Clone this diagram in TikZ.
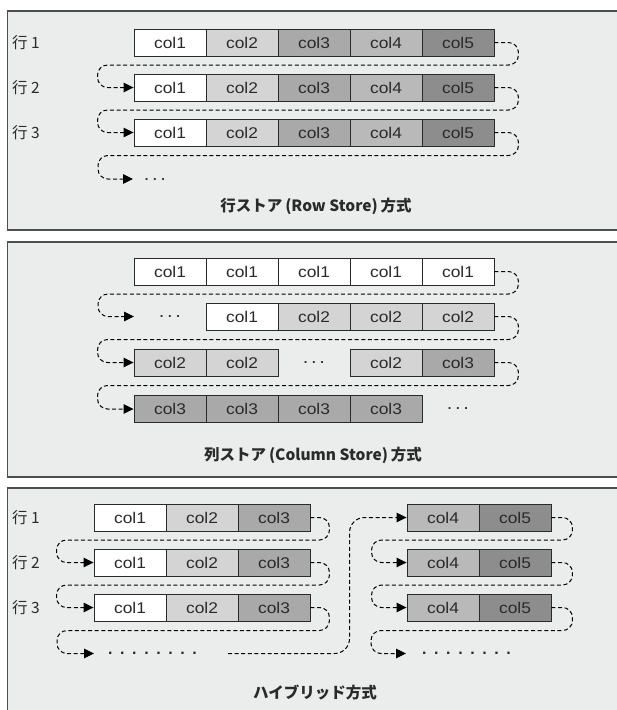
\documentclass[tikz,border=0pt]{standalone}
\usepackage{fontspec}
\setmainfont{Liberation Sans}
\newfontfamily\jpfont{Noto Sans CJK JP}
\newfontfamily\colfont[FakeStretch=1.12]{Liberation Sans}
\usetikzlibrary{arrows.meta}

\definecolor{panelbg}{HTML}{EBECEC}
\definecolor{frame}{HTML}{4E4E4E}
\definecolor{ink}{HTML}{2A2A2A}
\definecolor{shadeA}{HTML}{D4D4D4}
\definecolor{shadeB}{HTML}{A9A9A9}
\definecolor{shadeC}{HTML}{B9B9B9}
\definecolor{shadeD}{HTML}{8D8D8D}

% spaced run of dots
\newcommand{\dotrun}[2]{.\foreach \k in {2,...,#1}{\kern#2.}}

\begin{document}
\begin{tikzpicture}[x=1pt, y=-1pt,
  cell/.style={rectangle, draw=ink, line width=0.9pt, minimum width=72pt,
    minimum height=27pt, inner sep=0pt, text=ink,
    font=\colfont\fontsize{15.5}{17}\selectfont},
  c1/.style={cell, fill=white},
  c2/.style={cell, fill=shadeA},
  c3/.style={cell, fill=shadeB},
  c4/.style={cell, fill=shadeC},
  c5/.style={cell, fill=shadeD},
  rowlbl/.style={font=\jpfont\fontsize{15.5}{17}\selectfont, text=ink,
    anchor=west, inner sep=0pt},
  ttl/.style={font=\jpfont\bfseries\fontsize{15.5}{18}\selectfont, text=ink},
  elide/.style={font=\bfseries\fontsize{13}{15}\selectfont, text=ink, inner sep=0pt},
  elidebig/.style={font=\bfseries\fontsize{16}{18}\selectfont, text=ink, inner sep=0pt},
  flow/.style={draw=black, line width=1pt, dash pattern=on 4pt off 2.6pt,
    rounded corners=10pt, -{Triangle[length=10pt,width=9.5pt]}},
  panel/.style={draw=frame, line width=1.2pt},
]
\useasboundingbox (0,0) rectangle (617,710);

% Panels
\fill[panelbg] (7.5,11) rectangle (617,230);
\draw[panel] (617,11) -- (7.5,11) -- (7.5,230) -- (617,230);
\fill[panelbg] (7.5,242) rectangle (617,477);
\draw[panel] (617,242) -- (7.5,242) -- (7.5,477) -- (617,477);
\fill[panelbg] (7.5,488) rectangle (617,710);
\draw[panel] (617,488) -- (7.5,488) -- (7.5,710);

% Row store
\node[rowlbl] (ra) at (12,42.5) {行 1};
\node[rowlbl] (rb) at (12,87.5) {行 2};
\node[rowlbl] (rc) at (12,132.5) {行 3};
\node[c1] (a11) at (170,42.5) {col1};
\node[c2] (a12) at (242,42.5) {col2};
\node[c3] (a13) at (314,42.5) {col3};
\node[c4] (a14) at (386,42.5) {col4};
\node[c5] (a15) at (458,42.5) {col5};
\node[c1] (a21) at (170,87.5) {col1};
\node[c2] (a22) at (242,87.5) {col2};
\node[c3] (a23) at (314,87.5) {col3};
\node[c4] (a24) at (386,87.5) {col4};
\node[c5] (a25) at (458,87.5) {col5};
\node[c1] (a31) at (170,132.5) {col1};
\node[c2] (a32) at (242,132.5) {col2};
\node[c3] (a33) at (314,132.5) {col3};
\node[c4] (a34) at (386,132.5) {col4};
\node[c5] (a35) at (458,132.5) {col5};
\coordinate (a4in) at (133,179);
\node[elide] (a4d) at (155,180) {\dotrun{3}{4.6pt}};
\draw[flow] (a15.east) -- ++(24,0) -- ++(0,22.5) -| ([xshift=-36pt]a21.west) -- (a21.west);
\draw[flow] (a25.east) -- ++(24,0) -- ++(0,22.5) -| ([xshift=-36pt]a31.west) -- (a31.west);
\draw[flow] (a35.east) -- ++(24,0) -- ++(0,23) -| ([xshift=-35pt]a4in) -- (a4in);
\node[ttl] (ta) at (316,206) {行ストア\kern3pt(Row Store)\kern3pt方式};

% Column store
\node[c1] (b11) at (170,271.5) {col1};
\node[c1] (b12) at (242,271.5) {col1};
\node[c1] (b13) at (314,271.5) {col1};
\node[c1] (b14) at (386,271.5) {col1};
\node[c1] (b15) at (458,271.5) {col1};
\coordinate (b2in) at (134,316.5);
\node[elide] (b21) at (170,316.5) {\dotrun{3}{4.6pt}};
\node[c1] (b22) at (242,316.5) {col1};
\node[c2] (b23) at (314,316.5) {col2};
\node[c2] (b24) at (386,316.5) {col2};
\node[c2] (b25) at (458,316.5) {col2};
\node[c2] (b31) at (170,362.5) {col2};
\node[c2] (b32) at (242,362.5) {col2};
\node[elide] (b33) at (314,362.5) {\dotrun{3}{4.6pt}};
\node[c2] (b34) at (386,362.5) {col2};
\node[c3] (b35) at (458,362.5) {col3};
\node[c3] (b41) at (170,409) {col3};
\node[c3] (b42) at (242,409) {col3};
\node[c3] (b43) at (314,409) {col3};
\node[c3] (b44) at (386,409) {col3};
\node[elide] (b45) at (458,409) {\dotrun{3}{4.6pt}};
\draw[flow] (b15.east) -- ++(24,0) -- ++(0,22.5) -| ([xshift=-36pt]b2in) -- (b2in);
\draw[flow] (b25.east) -- ++(24,0) -- ++(0,23) -| ([xshift=-36pt]b31.west) -- (b31.west);
\draw[flow] (b35.east) -- ++(24,0) -- ++(0,23) -| ([xshift=-36pt]b41.west) -- (b41.west);
\node[ttl] (tb) at (313,455.5) {列ストア\kern3pt(Column Store)\kern3pt方式};

% Hybrid
\node[rowlbl] (ha) at (12,517.5) {行 1};
\node[rowlbl] (hb) at (12,562.5) {行 2};
\node[rowlbl] (hc) at (12,607.5) {行 3};
\node[c1] (c11) at (130,517.5) {col1};
\node[c2] (c12) at (202,517.5) {col2};
\node[c3] (c13) at (274,517.5) {col3};
\node[c1] (c21) at (130,562.5) {col1};
\node[c2] (c22) at (202,562.5) {col2};
\node[c3] (c23) at (274,562.5) {col3};
\node[c1] (c31) at (130,607.5) {col1};
\node[c2] (c32) at (202,607.5) {col2};
\node[c3] (c33) at (274,607.5) {col3};
\coordinate (c4in) at (94,653.5);
\node[elidebig] (c4d) at (152.5,653.5) {\dotrun{8}{7.6pt}};
\node[c4] (c14) at (443,517.5) {col4};
\node[c5] (c15) at (515,517.5) {col5};
\node[c4] (c24) at (443,562.5) {col4};
\node[c5] (c25) at (515,562.5) {col5};
\node[c4] (c34) at (443,607.5) {col4};
\node[c5] (c35) at (515,607.5) {col5};
\coordinate (c5in) at (406,653.5);
\node[elidebig] (c5d) at (466.5,653.5) {\dotrun{8}{7.6pt}};
\draw[flow] (c13.east) -- ++(19,0) -- ++(0,22.5) -| ([xshift=-37pt]c21.west) -- (c21.west);
\draw[flow] (c23.east) -- ++(19,0) -- ++(0,22.5) -| ([xshift=-37pt]c31.west) -- (c31.west);
\draw[flow] (c33.east) -- ++(19,0) -- ++(0,23) -| ([xshift=-37pt]c4in) -- (c4in);
\coordinate (cjump) at (228,653.5);
\draw[flow, rounded corners=15pt] (cjump) -| ([xshift=-57pt]c14.west) -- (c14.west);
\draw[flow] (c15.east) -- ++(21,0) -- ++(0,22.5) -| ([xshift=-35pt]c24.west) -- (c24.west);
\draw[flow] (c25.east) -- ++(21,0) -- ++(0,22.5) -| ([xshift=-35pt]c34.west) -- (c34.west);
\draw[flow] (c35.east) -- ++(21,0) -- ++(0,23) -| ([xshift=-35pt]c5in) -- (c5in);
\node[ttl] (tc) at (315,693) {ハイブリッド方式};

\end{tikzpicture}
\end{document}
